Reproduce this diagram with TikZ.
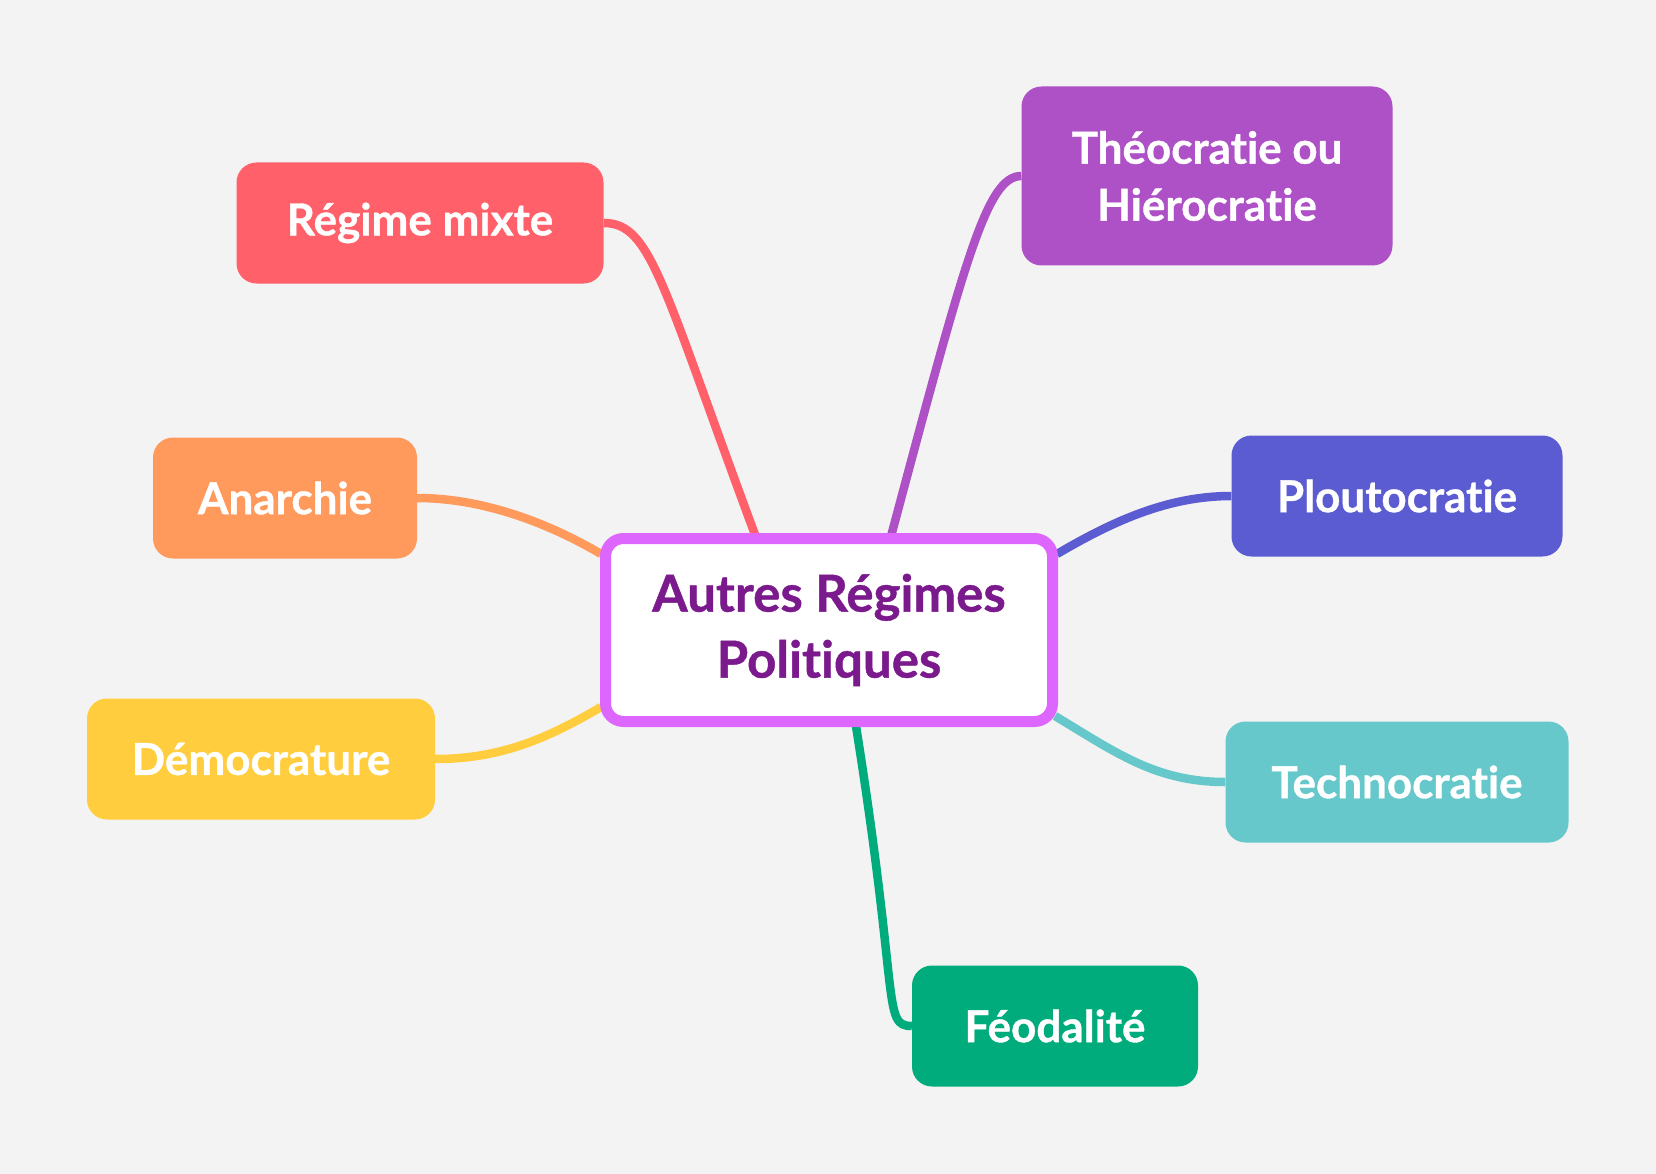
\documentclass[tikz,border=0pt]{standalone}
\usepackage{fontspec}
\setmainfont{Lato}[Ligatures=NoCommon, BoldFeatures={FakeBold=0.8}]
\usepackage{tikz}
\usetikzlibrary{calc}
\definecolor{PageGrey}{HTML}{F3F3F3}
\definecolor{CoreLine}{HTML}{DD66FF}
\definecolor{CoreText}{HTML}{7B1A8C}
\definecolor{MixRed}{HTML}{FF6069}
\definecolor{TheoPurple}{HTML}{AE50C6}
\definecolor{AnarOrange}{HTML}{FF9A5C}
\definecolor{DemoYellow}{HTML}{FFCD3D}
\definecolor{PlutoBlue}{HTML}{5B5BD2}
\definecolor{TechTeal}{HTML}{66C8CA}
\definecolor{FeodGreen}{HTML}{00AB7C}
\pgfdeclarelayer{paper}
\pgfdeclarelayer{links}
\pgfsetlayers{paper,links,main}

\begin{document}
\begin{tikzpicture}[
  x=1pt, y=-1pt,
  leaf/.style={rounded corners=20pt, align=center, text=white, inner sep=0pt, minimum height=121pt, font=\fontsize{44}{57}\selectfont\bfseries},
  core/.style={draw=CoreLine, line width=11pt, fill=white, rounded corners=18pt, align=center, text=CoreText, inner sep=0pt, minimum width=447pt, minimum height=183pt, font=\fontsize{51}{66}\selectfont\bfseries},
  link/.style={line width=8.5pt}
]

\useasboundingbox (0,0) rectangle (1656,1174);
\begin{pgfonlayer}{paper}
\fill[PageGrey] (0,0) rectangle (1656,1174);
\end{pgfonlayer}

\node[core] (centre) at (829,630) {Autres Régimes\\Politiques};

\node[leaf, fill=MixRed, minimum width=367pt] (mixte) at (420,223) {Régime mixte};
\node[leaf, fill=TheoPurple, minimum width=371pt, minimum height=179pt] (theo) at (1207,176) {Théocratie ou\\Hiérocratie};
\node[leaf, fill=AnarOrange, minimum width=264pt] (anar) at (285,498) {Anarchie};
\node[leaf, fill=DemoYellow, minimum width=348pt] (demo) at (261,759) {Démocrature};
\node[leaf, fill=PlutoBlue, minimum width=331pt] (pluto) at (1397,496) {Ploutocratie};
\node[leaf, fill=TechTeal, minimum width=343pt] (techno) at (1397,782) {Technocratie};
\node[leaf, fill=FeodGreen, minimum width=286pt] (feod) at (1055,1026) {Féodalité};

% branches, kept under the boxes
\begin{pgfonlayer}{links}
\draw[link, MixRed] (mixte.east) .. controls +(48,0) and +(-95,-255) .. ($(centre.north)+(-72,7)$);
\draw[link, TheoPurple] (theo.west) .. controls +(-35,0) and +(75,-280) .. ($(centre.north)+(61,7)$);
\draw[link, AnarOrange] (anar.east) .. controls +(63,0) and +(-56,-33) .. ($(centre.west)+(1,-76)$);
\draw[link, DemoYellow] (demo.east) .. controls +(63,0) and +(-56,33) .. ($(centre.west)+(1,77)$);
\draw[link, PlutoBlue] (pluto.west) .. controls +(-63,0) and +(56,-33) .. ($(centre.east)+(-1,-76)$);
\draw[link, TechTeal] (techno.west) .. controls +(-70,0) and +(60,36) .. ($(centre.east)+(-3,86)$);
\draw[link, FeodGreen] (feod.west) .. controls +(-30,0) and +(45,280) .. ($(centre.south)+(26,-7)$);
\end{pgfonlayer}

\end{tikzpicture}
\end{document}
